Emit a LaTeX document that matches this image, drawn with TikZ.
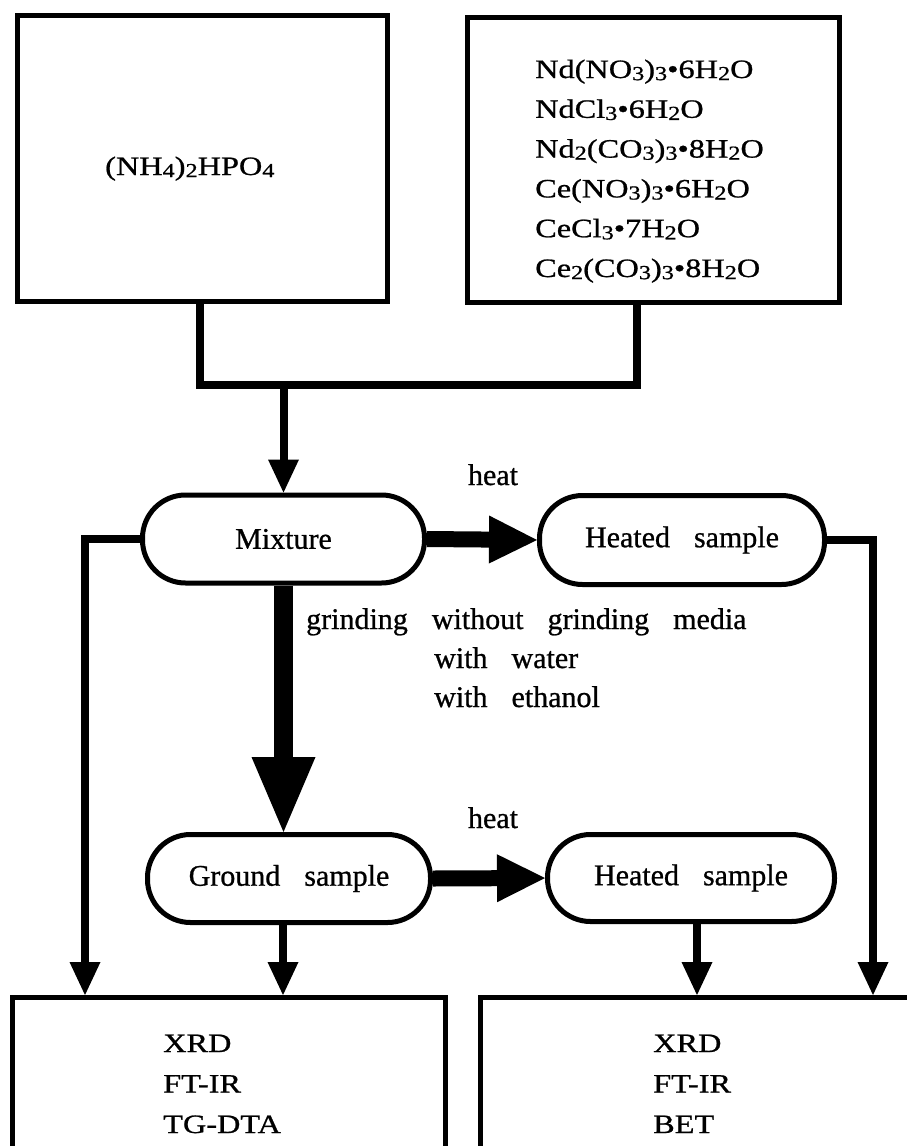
\documentclass[tikz,border=0pt]{standalone}
\usepackage{fontspec}
\usepackage{graphicx}
\setmainfont[FakeBold=0.8]{Liberation Serif}
\newfontfamily\midfont[FakeBold=0.8]{Liberation Serif}
\newfontfamily\boxfont[FakeStretch=1.22,FakeBold=0.8]{Liberation Serif}
\usetikzlibrary{arrows.meta}
\newcommand{\sbs}[1]{\raisebox{-0.08em}{\scalebox{0.75}{#1}}}
\newcommand{\midtext}{\midfont\fontsize{30}{36}\selectfont\spaceskip=0.8em\relax}
\newcommand{\boxtext}{\boxfont\fontsize{26.5}{39.8}\selectfont}
\newcommand{\boxtextb}{\boxfont\fontsize{26.5}{40.5}\selectfont}
\tikzset{
  frame/.style={draw, line width=5pt, inner sep=0pt},
  pill/.style={draw, line width=5pt, rounded corners=43pt, minimum height=88pt, inner sep=0pt, font=\midtext},
  conn/.style={line width=8pt, line join=miter, line cap=butt},
  thinarrow/.style={conn, -{Triangle[width=31pt,length=33pt,line width=0pt]}},
  heatarrow/.style={line width=16pt, -{Triangle[width=48pt,length=48pt,line width=0pt]}},
  grindarrow/.style={line width=19pt, -{Triangle[width=64pt,length=75pt,line width=0pt]}},
  lbl/.style={inner sep=0pt, font=\midtext},
  btxt/.style={inner sep=0pt, anchor=base west, font=\boxtext},
  btxtb/.style={inner sep=0pt, anchor=base west, font=\boxtextb}
}
\begin{document}
\begin{tikzpicture}[x=1pt,y=-1pt]
\useasboundingbox (0,0) rectangle (907,1146);
\clip (0,0) rectangle (907,1146);
\fill[white] (0,0) rectangle (907,1146);

% top boxes
\node[frame, minimum width=370pt, minimum height=286pt] (box1) at (202.5,158.5) {};
\node[frame, minimum width=372pt, minimum height=285pt] (box2) at (653.5,160) {};
\node[btxt] (t1) at (105,175) {(NH\sbs{4})\sbs{2}HPO\sbs{4}};
\node[btxt] (t2) at (535,78) {\begin{tabular}[t]{@{}l@{}}
Nd(NO\sbs{3})\sbs{3}•6H\sbs{2}O\\
NdCl\sbs{3}•6H\sbs{2}O\\
Nd\sbs{2}(CO\sbs{3})\sbs{3}•8H\sbs{2}O\\
Ce(NO\sbs{3})\sbs{3}•6H\sbs{2}O\\
CeCl\sbs{3}•7H\sbs{2}O\\
Ce\sbs{2}(CO\sbs{3})\sbs{3}•8H\sbs{2}O
\end{tabular}};

% process nodes
\node[pill, minimum width=282pt] (mix) at (283.5,539) {Mixture};
\node[pill, minimum width=285pt, minimum height=89pt] (heat1) at (682,540) {Heated sample};
\node[pill, minimum width=283pt] (ground) at (289,878.5) {Ground sample};
\node[pill, minimum width=287pt, minimum height=87pt] (heat2) at (691,878) {Heated sample};

% bottom boxes
\node[frame, minimum width=433pt, minimum height=300pt] (botL) at (229,1147.5) {};
\node[frame, minimum width=519.5pt, minimum height=300pt] (botR) at (740.25,1147.5) {};
\node[btxtb] (t3) at (163,1052) {\begin{tabular}[t]{@{}l@{}}XRD\\FT-IR\\TG-DTA\end{tabular}};
\node[btxtb] (t4) at (653,1052) {\begin{tabular}[t]{@{}l@{}}XRD\\FT-IR\\BET\end{tabular}};

% labels
\node[lbl, anchor=base] (h1) at (493,485) {heat};
\node[lbl, anchor=base] (h2) at (493,828) {heat};
\node[lbl, anchor=base west] (g1) at (306,629) {grinding without grinding media};
\node[lbl, anchor=base west] (g2) at (434,668) {with water};
\node[lbl, anchor=base west] (g3) at (434,707) {with ethanol};

% connectors
\coordinate (jn) at (283.5,385);
\draw[conn] ([xshift=-2.5pt]box1.south) |- (jn) -| ([xshift=-16.5pt]box2.south);
\draw[thinarrow] (jn) -- (mix.north);
\draw[thinarrow] (mix.west) -| ([xshift=75pt]botL.north west);
\draw[thinarrow] (heat1.east) -| ([xshift=395pt]botR.north west);
\draw[heatarrow] (mix.east) -- (heat1.west);
\draw[heatarrow] (ground.east) -- (heat2.west);
\draw[grindarrow] (mix.south) -- (mix.south |- ground.north);
\draw[thinarrow] ([xshift=-6pt]ground.south) coordinate (gs) -- (gs |- botL.north);
\draw[thinarrow] ([xshift=6pt]heat2.south) coordinate (hs) -- (hs |- botR.north);
\end{tikzpicture}
\end{document}
